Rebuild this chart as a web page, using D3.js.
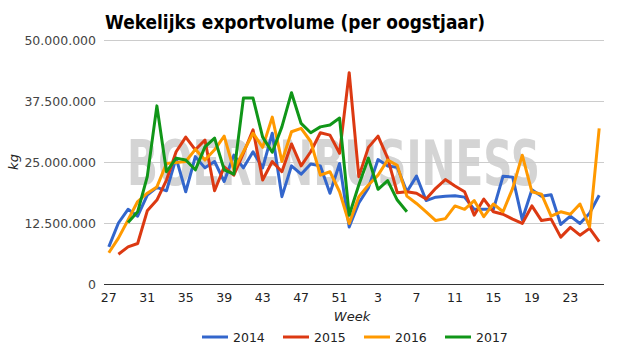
<!DOCTYPE html>
<html>
<head>
<meta charset="utf-8">
<script src="https://cdn.jsdelivr.net/npm/d3@7"></script>
<style>
  body { margin: 0; background: #fff; }
  svg { display: block; }
  text { font-family: "DejaVu Sans", sans-serif; }
</style>
</head>
<body>
<svg id="chart" width="625" height="355"></svg>
<script>
const weeks = [27,28,29,30,31,32,33,34,35,36,37,38,39,40,41,42,43,44,45,46,47,48,49,50,51,52,
               1,2,3,4,5,6,7,8,9,10,11,12,13,14,15,16,17,18,19,20,21,22,23,24,25,26];
const tickWeeks = [27,31,35,39,43,47,51,3,7,11,15,19,23];
const yTicks = [0, 12500000, 25000000, 37500000, 50000000];
const seriesNames = ["2014", "2015", "2016", "2017"];
const seriesColors = ["#3366cc", "#dc3912", "#ff9900", "#109618"];

// values in millions of kg
const v2014 = [7.6,12.5,15.3,13.9,18.2,19.8,19.1,25.8,18.9,26.1,23.8,25.1,21.0,26.4,23.8,27.1,23.8,30.9,17.9,24.2,22.5,24.6,24.2,18.6,24.7,11.7,
               16.6,19.7,25.5,24.2,23.9,18.9,22.1,17.1,17.8,18.0,18.1,17.8,15.3,15.3,15.3,22.1,21.9,13.2,19.3,18.0,18.3,12.2,13.9,12.4,14.5,18.2];
const v2015 = [null,6.1,7.6,8.3,15.0,17.2,21.3,27.1,30.1,27.5,29.5,19.1,24.0,22.3,26.8,31.6,21.3,25.1,23.0,28.7,24.2,27.1,31.0,30.5,26.8,43.3,
               22.0,28.0,30.3,25.8,18.7,18.9,18.6,17.4,19.6,21.4,20.1,18.9,14.1,17.4,14.8,14.3,13.3,12.4,16.0,13.0,13.3,9.6,11.6,10.0,11.4,8.7];
const v2016 = [6.4,9.4,13.1,16.9,18.6,19.9,24.7,24.9,25.1,27.6,25.4,27.5,30.3,23.4,27.1,30.9,28.0,34.2,25.1,31.2,31.9,29.2,22.3,23.0,18.9,12.4,
               17.9,20.3,22.3,25.4,24.3,18.0,16.5,14.8,13.0,13.4,16.0,15.3,17.1,13.8,16.4,14.8,19.6,26.4,18.9,18.4,13.9,14.8,14.3,16.4,11.7,31.9];
const v2017 = [null,null,12.6,14.8,22.0,36.5,23.0,25.8,25.4,23.4,28.1,29.9,23.4,22.5,38.1,38.1,30.1,27.0,32.2,39.2,32.9,31.0,32.2,32.6,34.0,14.1,
               20.3,25.8,19.4,21.2,17.2,14.8,null,null,null,null,null,null,null,null,null,null,null,null,null,null,null,null,null,null,null,null];
const seriesValues = [v2014, v2015, v2016, v2017];

const svg = d3.select("#chart");
const mLeft = 104, mRight = 604, mTop = 40, mBottom = 284;

const x = d3.scaleBand().domain(d3.range(weeks.length)).range([mLeft, mRight]);
const y = d3.scaleLinear().domain([0, 50000000]).range([mBottom, mTop]);
const xc = i => x(i) + x.bandwidth() / 2;

// watermark
svg.append("text")
  .attr("x", 127).attr("y", 185)
  .attr("textLength", 413).attr("lengthAdjust", "spacingAndGlyphs")
  .style("font-family", "'DejaVu Sans', sans-serif")
  .style("font-weight", "bold").style("font-size", "62px")
  .attr("fill", "#d4d4d4")
  .text("BOERENBUSINESS");

// gridlines
svg.append("g").selectAll("line").data(yTicks.filter(d => d > 0)).join("line")
  .attr("x1", mLeft).attr("x2", mRight)
  .attr("y1", d => Math.round(y(d)) + 0.5).attr("y2", d => Math.round(y(d)) + 0.5)
  .attr("stroke", "#cccccc").attr("stroke-width", 1);

// y labels
const fmt = d => d3.format(",")(d).replace(/,/g, ".");
svg.append("g").selectAll("text").data(yTicks).join("text")
  .attr("x", 96).attr("y", d => y(d) + 4.5)
  .attr("text-anchor", "end")
  .style("font-size", "12.5px").attr("fill", "#444")
  .text(fmt);

// lines
const line = d3.line()
  .defined(d => d.v !== null)
  .x(d => xc(d.i)).y(d => y(d.v * 1e6));
seriesValues.forEach((vals, k) => {
  svg.append("path")
    .datum(vals.map((v, i) => ({i, v})))
    .attr("fill", "none")
    .attr("stroke", seriesColors[k])
    .attr("stroke-width", 3)
    .attr("stroke-linejoin", "round")
    .attr("d", line);
});

// x axis baseline
svg.append("line")
  .attr("x1", mLeft).attr("x2", mRight).attr("y1", mBottom + 0.5).attr("y2", mBottom + 0.5)
  .attr("stroke", "#333").attr("stroke-width", 1.2);

// x labels
svg.append("g").selectAll("text")
  .data(weeks.map((w, i) => ({w, i})).filter(d => tickWeeks.includes(d.w) && (d.i < 26 ? d.w >= 27 : d.w < 27)))
  .join("text")
  .attr("x", d => xc(d.i)).attr("y", 302)
  .attr("text-anchor", "middle")
  .style("font-size", "12.5px").attr("fill", "#222")
  .text(d => d.w);

// axis titles
svg.append("text")
  .attr("x", 352).attr("y", 321).attr("text-anchor", "middle")
  .style("font-size", "13px").style("font-style", "italic").attr("fill", "#222")
  .text("Week");
svg.append("text")
  .attr("transform", "translate(18,162) rotate(-90)")
  .attr("text-anchor", "middle")
  .style("font-size", "13px").style("font-style", "italic").attr("fill", "#222")
  .text("kg");

// title
svg.append("text")
  .attr("x", 105).attr("y", 29)
  .style("font-size", "20px").style("font-weight", "bold").attr("fill", "#000")
  .attr("textLength", 380).attr("lengthAdjust", "spacingAndGlyphs")
  .text("Wekelijks exportvolume (per oogstjaar)");

// legend
const legX = [202, 283, 364, 445];
const leg = svg.append("g").selectAll("g").data(seriesNames).join("g")
  .attr("transform", (d, i) => `translate(${legX[i]},337)`);
leg.append("line").attr("x1", 0).attr("x2", 26).attr("y1", 0).attr("y2", 0)
  .attr("stroke", (d, i) => seriesColors[i]).attr("stroke-width", 3);
leg.append("text").attr("x", 31).attr("y", 4.5)
  .style("font-size", "12.5px").attr("fill", "#222")
  .text(d => d);
</script>
</body>
</html>
